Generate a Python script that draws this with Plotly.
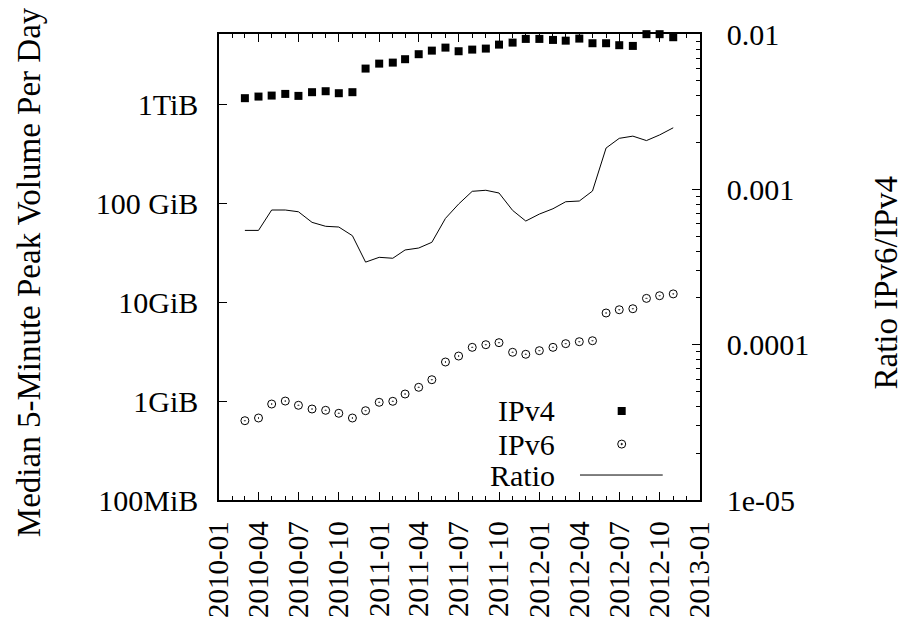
import plotly.graph_objects as go

months = ["2010-03-01", "2010-04-01", "2010-05-01", "2010-06-01", "2010-07-01", "2010-08-01",
          "2010-09-01", "2010-10-01", "2010-11-01", "2010-12-01", "2011-01-01", "2011-02-01",
          "2011-03-01", "2011-04-01", "2011-05-01", "2011-06-01", "2011-07-01", "2011-08-01",
          "2011-09-01", "2011-10-01", "2011-11-01", "2011-12-01", "2012-01-01", "2012-02-01",
          "2012-03-01", "2012-04-01", "2012-05-01", "2012-06-01", "2012-07-01", "2012-08-01",
          "2012-09-01", "2012-10-01", "2012-11-01"]

# volumes in GiB
ipv4 = [1150, 1194, 1222, 1270, 1213, 1322, 1352, 1291, 1322, 2290, 2570, 2631,
        2848, 3200, 3478, 3730, 3428, 3561, 3646, 4000, 4190, 4567, 4567, 4460,
        4385, 4600, 4130, 4130, 3945, 3880, 5100, 5100, 4750]
ipv6 = [0.633, 0.674, 0.933, 1.0, 0.906, 0.831, 0.806, 0.752, 0.674, 0.799, 0.971, 0.994,
        1.178, 1.377, 1.643, 2.48, 2.85, 3.49, 3.71, 3.89, 3.11, 2.97, 3.23, 3.49,
        3.80, 3.98, 4.07, 7.76, 8.37, 8.57, 10.9, 11.6, 12.1]
ratio = [5.44e-4, 5.44e-4, 7.36e-4, 7.36e-4, 7.17e-4, 6.13e-4, 5.78e-4, 5.72e-4, 5.03e-4,
         3.40e-4, 3.65e-4, 3.60e-4, 4.07e-4, 4.19e-4, 4.56e-4, 6.50e-4, 8.04e-4, 9.71e-4,
         9.86e-4, 9.47e-4, 7.32e-4, 6.25e-4, 6.93e-4, 7.50e-4, 8.32e-4, 8.41e-4, 9.75e-4,
         1.845e-3, 2.13e-3, 2.20e-3, 2.06e-3, 2.24e-3, 2.49e-3]

left_tickvals = [0.1, 1, 10, 100, 1000]
left_ticktext = ["100MiB", "1GiB", "10GiB", "100 GiB", "1TiB"]
right_tickvals = [1e-5, 1e-4, 1e-3, 1e-2]
right_ticktext = ["1e-05", "0.0001", "0.001", "0.01"]
right_minor = [k * 10.0 ** e for e in (-5, -4, -3) for k in range(2, 10)]

legend_names = ["IPv4", "IPv6", "Ratio"]

FONT = "Liberation Serif"
FS = 30

fig = go.Figure()
fig.add_trace(go.Scatter(x=months, y=ipv4, mode="markers", name="IPv4",
                         marker=dict(symbol="square", size=8, color="black"),
                         yaxis="y", showlegend=False, cliponaxis=False))
fig.add_trace(go.Scatter(x=months, y=ipv6, mode="markers", name="IPv6",
                         marker=dict(symbol="circle-open-dot", size=8, color="black",
                                     line=dict(width=1, color="black")),
                         yaxis="y", showlegend=False))
fig.add_trace(go.Scatter(x=months, y=ratio, mode="lines", name="Ratio",
                         line=dict(color="black", width=1),
                         yaxis="y2", showlegend=False))

fig.update_layout(
    width=904, height=620,
    margin=dict(l=219, r=204, t=34, b=120, autoexpand=False),
    paper_bgcolor="white", plot_bgcolor="white",
    font=dict(family=FONT, size=FS, color="black"),
    xaxis=dict(
        type="date", range=["2010-01-01", "2013-01-01"], automargin=False,
        tick0="2010-01-01", dtick="M3", tickformat="%Y-%m", tickangle=-90,
        tickfont=dict(family=FONT, size=29),
        ticks="inside", ticklen=8, tickwidth=1, tickcolor="black",
        showline=True, linecolor="black", linewidth=1.5, mirror="ticks",
        showgrid=False, zeroline=False, ticklabelstandoff=8,
        minor=dict(dtick="M1", tick0="2010-01-01", ticks="inside", ticklen=4,
                   tickwidth=1, tickcolor="black", showgrid=False),
    ),
    yaxis=dict(
        type="log", range=[-1, 3.70927], automargin=False,
        tickmode="array", tickvals=left_tickvals, ticktext=left_ticktext,
        ticks="inside", ticklen=8, tickwidth=1, tickcolor="black",
        showline=True, linecolor="black", linewidth=1.5,
        showgrid=False, zeroline=False, ticklabelstandoff=13,
    ),
    yaxis2=dict(
        type="log", range=[-5, -2], overlaying="y", side="right", automargin=False,
        tickmode="array", tickvals=right_tickvals, ticktext=right_ticktext,
        ticks="inside", ticklen=8, tickwidth=1, tickcolor="black",
        showline=True, linecolor="black", linewidth=1.5,
        showgrid=False, zeroline=False, ticklabelstandoff=19,
        minor=dict(tickmode="array", tickvals=right_minor, ticks="inside", ticklen=4,
                   tickwidth=1, tickcolor="black", showgrid=False),
    ),
)

# axis titles
fig.add_annotation(text="Median 5-Minute Peak Volume Per Day", textangle=-90,
                   xref="paper", yref="paper", x=-0.395, y=0.489,
                   xanchor="center", yanchor="middle", showarrow=False,
                   font=dict(family=FONT, size=33))
fig.add_annotation(text="Ratio IPv6/IPv4", textangle=-90,
                   xref="paper", yref="paper", x=1.386, y=0.466,
                   xanchor="center", yanchor="middle", showarrow=False,
                   font=dict(family=FONT, size=33))

# manual key (text on the left, sample on the right, as in the original)
rows_y = [0.191, 0.120, 0.0536]
for name, yy in zip(legend_names, rows_y):
    fig.add_annotation(text=name, xref="paper", yref="paper", x=0.7027, y=yy,
                       xanchor="right", yanchor="middle", showarrow=False,
                       font=dict(family=FONT, size=FS))

sx = 0.8372
fig.add_shape(type="rect", xref="paper", yref="paper", xsizemode="pixel", ysizemode="pixel",
              xanchor=sx, yanchor=rows_y[0], x0=-4, x1=4, y0=-4, y1=4,
              fillcolor="black", line=dict(width=0))
fig.add_shape(type="circle", xref="paper", yref="paper", xsizemode="pixel", ysizemode="pixel",
              xanchor=sx, yanchor=rows_y[1], x0=-4, x1=4, y0=-4, y1=4,
              line=dict(color="black", width=1))
fig.add_shape(type="circle", xref="paper", yref="paper", xsizemode="pixel", ysizemode="pixel",
              xanchor=sx, yanchor=rows_y[1], x0=-0.8, x1=0.8, y0=-0.8, y1=0.8,
              fillcolor="black", line=dict(color="black", width=0.5))
fig.add_shape(type="line", xref="paper", yref="paper", x0=0.7505, x1=0.9225,
              y0=rows_y[2], y1=rows_y[2], line=dict(color="black", width=1))

fig.write_html("out.html", config={"displayModeBar": False},
               post_script="document.body.style.margin='0';document.body.style.overflow='hidden';")
